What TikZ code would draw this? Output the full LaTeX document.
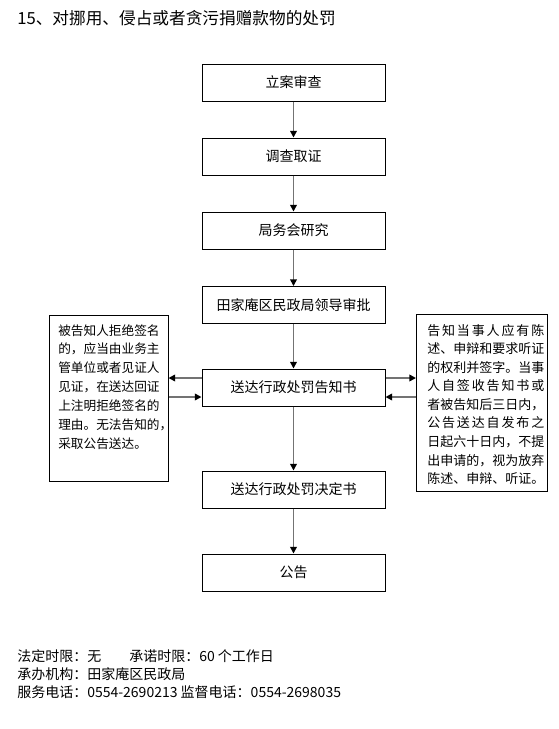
\documentclass[tikz,border=0pt]{standalone}
\usepackage{fontspec}
\setmainfont{Noto Sans CJK SC}
\usetikzlibrary{arrows.meta}
\tikzset{
  stepbox/.style={draw=black, line width=0.75pt, minimum width=137.25pt, minimum height=27.75pt, inner sep=0pt, font=\fontsize{10.5}{12}\selectfont},
  sidebox/.style={draw=black, line width=0.75pt, inner sep=0pt},
  flow/.style={draw=black!55, line width=1.2pt, -{Triangle[length=5pt,width=5pt,fill=black,color=black]}},
  sidetext/.style={anchor=north west, inner sep=0pt, align=left},
}
\begin{document}
\begin{tikzpicture}[x=0.75pt,y=-0.75pt]
\useasboundingbox (0,0) rectangle (558,729);
\node[anchor=west, inner sep=0pt, font=\fontsize{12.5}{14}\selectfont] (title) at (17,18) {15、对挪用、侵占或者贪污捐赠款物的处罚};

\node[stepbox] (b1) at (293.5,82.5) {立案审查};
\node[stepbox] (b2) at (293.5,156.5) {调查取证};
\node[stepbox] (b3) at (293.5,230.5) {局务会研究};
\node[stepbox] (b4) at (293.5,305) {田家庵区民政局领导审批};
\node[stepbox] (b5) at (293.5,387.5) {送达行政处罚告知书};
\node[stepbox] (b6) at (293.5,489.5) {送达行政处罚决定书};
\node[stepbox] (b7) at (293.5,572.5) {公告};

\node[sidebox, minimum width=89.25pt, minimum height=124.5pt] (lbox) at (108.5,398) {};
\node[sidetext, font=\fontsize{9.5}{14.2}\selectfont] (ltext) at (58,324) {被告知人拒绝签名\\的，应当由业务主\\管单位或者见证人\\见证，在送达回证\\上注明拒绝签名的\\理由。无法告知的，\\采取公告送达。};

\node[sidebox, minimum width=98.25pt, minimum height=132.75pt] (rbox) at (482,402.5) {};
\node[sidetext, font=\fontsize{9.75}{13.9}\selectfont] (rtext) at (427,324) {%
\makebox[87.75pt][s]{告\hfill 知\hfill 当\hfill 事\hfill 人\hfill 应\hfill 有\hfill 陈}\\
\makebox[87.75pt][s]{述、申辩和要求听证}\\
\makebox[87.75pt][s]{的权利并签字。当事}\\
\makebox[87.75pt][s]{人\hfill 自\hfill 签\hfill 收\hfill 告\hfill 知\hfill 书\hfill 或}\\
\makebox[87.75pt][s]{者被告知后三日内，}\\
\makebox[87.75pt][s]{公\hfill 告\hfill 送\hfill 达\hfill 自\hfill 发\hfill 布\hfill 之}\\
\makebox[87.75pt][s]{日起六十日内，不提}\\
\makebox[87.75pt][s]{出申请的，视为放弃}\\
陈述、申辩、听证。};

\draw[flow] (b1) -- (b2);
\draw[flow] (b2) -- (b3);
\draw[flow] (b3) -- (b4);
\draw[flow] (b4) -- (b5);
\draw[flow] (b5) -- (b6);
\draw[flow] (b6) -- (b7);

\draw[flow] (b5.west |- 0,378) -- (lbox.east |- 0,378);
\draw[flow] (lbox.east |- 0,397) -- (b5.west |- 0,397);
\draw[flow] (b5.east |- 0,378) -- (rbox.west |- 0,378);
\draw[flow] (rbox.west |- 0,397) -- (b5.east |- 0,397);

\node[anchor=north west, inner sep=0pt, align=left, font=\fontsize{10.5}{13.5}\selectfont] (foot) at (17,649) {法定时限：无\hspace{2em}承诺时限：60 个工作日\\承办机构：田家庵区民政局\\服务电话：0554-2690213 监督电话：0554-2698035};
\end{tikzpicture}
\end{document}
